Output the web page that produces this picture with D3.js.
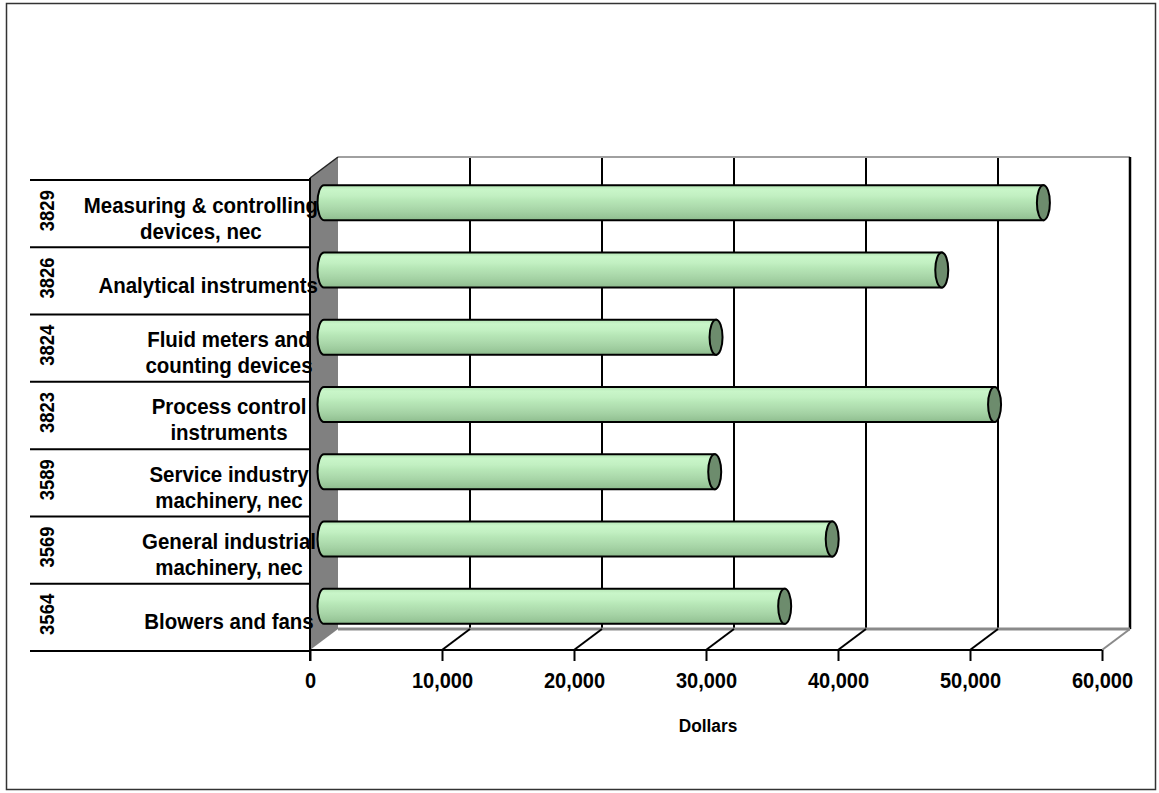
<!DOCTYPE html>
<html>
<head>
<meta charset="utf-8">
<script src="https://cdn.jsdelivr.net/npm/d3@7"></script>
<style>
  body { margin: 0; background: #fff; }
  text { font-family: "Liberation Sans", Arial, sans-serif; font-weight: bold; fill: #000; }
</style>
</head>
<body>
<div id="wrapper"></div>
<script>
// data
const codes = ["3829", "3826", "3824", "3823", "3589", "3569", "3564"]
const names = [
  ["Measuring & controlling", "devices, nec"],
  ["Analytical instruments"],
  ["Fluid meters and", "counting devices"],
  ["Process control", "instruments"],
  ["Service industry", "machinery, nec"],
  ["General industrial", "machinery, nec"],
  ["Blowers and fans"],
]
const values = [54500, 46800, 29700, 50800, 29600, 38500, 34900]
const xTicks = [0, 10000, 20000, 30000, 40000, 50000, 60000]
const axisTitle = "Dollars"

function drawBarChart() {
  const width = 1159
  const height = 793

  // front plane of the 3d box, plus the depth offset of the back plane
  const plot = { left: 310, right: 1102, top: 180, bottom: 651 }
  const depth = { dx: 28, dy: -22 }
  // the original font is a condensed bold face, so squeeze text a little
  const squeeze = 0.91

  const svg = d3.select("#wrapper")
    .append("svg")
    .attr("width", width)
    .attr("height", height)

  const defs = svg.append("defs")
  const grad = defs.append("linearGradient")
    .attr("id", "barFill")
    .attr("x1", 0).attr("y1", 0).attr("x2", 0).attr("y2", 1)
  const stops = [
    [0, "#b4e4b4"], [0.12, "#c9f6c9"], [0.3, "#c2f0c2"], [0.45, "#b6e6b6"],
    [0.6, "#aedcae"], [0.75, "#a4d2a4"], [0.9, "#98c698"], [1, "#8cba8c"],
  ]
  stops.forEach(([o, c]) => grad.append("stop").attr("offset", o).attr("stop-color", c))

  // outer frame
  svg.append("rect")
    .attr("x", 6.5).attr("y", 3.5)
    .attr("width", 1149).attr("height", 786)
    .attr("fill", "none")
    .attr("stroke", "#333")
    .attr("stroke-width", 1.5)

  // scales
  const xScale = d3.scaleLinear()
    .domain([0, 60000])
    .range([plot.left, plot.right])

  const yScale = d3.scaleBand()
    .domain(codes)
    .range([plot.top, plot.bottom])
    .paddingInner(0)

  const backTop = plot.top + depth.dy - 1
  const backBottom = plot.bottom + depth.dy

  // back wall gridlines
  svg.append("g")
    .selectAll("line")
    .data(xTicks.slice(1, -1))
    .join("line")
    .attr("x1", (d) => xScale(d) + depth.dx)
    .attr("x2", (d) => xScale(d) + depth.dx)
    .attr("y1", backTop)
    .attr("y2", backBottom)
    .attr("stroke", "#000")
    .attr("stroke-width", 2)

  // back wall top edge and right edge
  svg.append("line")
    .attr("x1", plot.left + depth.dx).attr("x2", plot.right + depth.dx)
    .attr("y1", backTop).attr("y2", backTop)
    .attr("stroke", "#a0a0a0").attr("stroke-width", 2)
  svg.append("line")
    .attr("x1", plot.right + depth.dx).attr("x2", plot.right + depth.dx)
    .attr("y1", backTop).attr("y2", backBottom)
    .attr("stroke", "#000").attr("stroke-width", 2.5)

  // floor: back edge, diagonals, right edge
  svg.append("line")
    .attr("x1", plot.left + depth.dx).attr("x2", plot.right + depth.dx)
    .attr("y1", backBottom).attr("y2", backBottom)
    .attr("stroke", "#8a8a8a").attr("stroke-width", 3)

  svg.append("g")
    .selectAll("line")
    .data(xTicks.slice(1))
    .join("line")
    .attr("x1", (d) => xScale(d))
    .attr("y1", plot.bottom - 1)
    .attr("x2", (d) => xScale(d) + depth.dx)
    .attr("y2", backBottom)
    .attr("stroke", (d) => (d === 60000 ? "#8a8a8a" : "#000"))
    .attr("stroke-width", 2)

  // left (category) wall
  svg.append("polygon")
    .attr("points", [
      [plot.left, plot.top - 2],
      [plot.left + depth.dx, backTop],
      [plot.left + depth.dx, backBottom],
      [plot.left, plot.bottom - 1],
    ].join(" "))
    .attr("fill", "#808080")
  svg.append("line")
    .attr("x1", plot.left).attr("y1", plot.top - 2)
    .attr("x2", plot.left + depth.dx).attr("y2", backTop)
    .attr("stroke", "#222").attr("stroke-width", 1.5)

  // bars as cylinders sitting halfway into the depth
  const mid = { dx: depth.dx / 2, dy: depth.dy / 2 }
  const r = yScale.bandwidth() * 0.26
  const capRx = 6.5

  const bars = svg.append("g")
    .selectAll("g")
    .data(codes.map((c, i) => ({ code: c, value: values[i] })))
    .join("g")

  bars.append("path")
    .attr("d", (d) => {
      const x0 = xScale(0) + mid.dx
      const x1 = xScale(d.value) + mid.dx
      const cy = yScale(d.code) + yScale.bandwidth() / 2 + mid.dy
      return `M${x0},${cy - r} L${x1},${cy - r} L${x1},${cy + r} L${x0},${cy + r}` +
        ` A${capRx},${r} 0 0 1 ${x0},${cy - r} Z`
    })
    .attr("fill", "url(#barFill)")
    .attr("stroke", "#000")
    .attr("stroke-width", 2)

  bars.append("ellipse")
    .attr("cx", (d) => xScale(d.value) + mid.dx)
    .attr("cy", (d) => yScale(d.code) + yScale.bandwidth() / 2 + mid.dy)
    .attr("rx", capRx)
    .attr("ry", r)
    .attr("fill", "#6d8c6d")
    .attr("stroke", "#000")
    .attr("stroke-width", 2)

  // category separators and front edges
  svg.append("g")
    .selectAll("line")
    .data(codes.map((c) => yScale(c)).concat([plot.bottom]))
    .join("line")
    .attr("x1", 30).attr("x2", plot.left)
    .attr("y1", (d) => d).attr("y2", (d) => d)
    .attr("stroke", "#000").attr("stroke-width", 2)

  svg.append("line")
    .attr("x1", plot.left).attr("x2", plot.right)
    .attr("y1", plot.bottom - 1).attr("y2", plot.bottom - 1)
    .attr("stroke", "#000").attr("stroke-width", 2)

  svg.append("line")
    .attr("x1", plot.left).attr("x2", plot.left)
    .attr("y1", plot.top - 2).attr("y2", plot.bottom + 10)
    .attr("stroke", "#000").attr("stroke-width", 2)

  // x axis
  const xAxisGenerator = d3.axisBottom(xScale)
    .tickValues(xTicks)
    .tickFormat(d3.format(","))
    .tickSize(11)
    .tickPadding(11)

  const xAxis = svg.append("g")
    .attr("transform", `translate(0, ${plot.bottom - 1})`)
    .call(xAxisGenerator)
  xAxis.select(".domain").remove()
  xAxis.selectAll(".tick line").attr("stroke", "#000").attr("stroke-width", 2)
  xAxis.selectAll(".tick text")
    .attr("font-family", null)
    .attr("font-size", null)
    .attr("fill", "#000")
    .attr("transform", `scale(${squeeze}, 1)`)
    .style("font-size", "22px")

  svg.append("text")
    .attr("transform", `translate(${(plot.left + plot.right) / 2 + 2}, 732) scale(${squeeze}, 1)`)
    .attr("text-anchor", "middle")
    .style("font-size", "19px")
    .text(axisTitle)

  // category labels: code rotated, name centred but kept left of the wall
  const labels = svg.append("g")
    .selectAll("g")
    .data(codes.map((c, i) => ({ code: c, lines: names[i] })))
    .join("g")

  labels.append("text")
    .attr("transform", (d) =>
      `translate(54, ${yScale(d.code) + yScale.bandwidth() / 2 - 3}) rotate(-90) scale(0.88, 1)`)
    .attr("text-anchor", "middle")
    .style("font-size", "21px")
    .text((d) => d.code)

  const lineHeight = 26
  labels.each(function (d) {
    const g = d3.select(this)
    const cy = yScale(d.code) + yScale.bandwidth() / 2 + 4
    const holder = g.append("g")
    const t = holder.append("text")
      .attr("text-anchor", "middle")
      .style("font-size", "22.5px")
    d.lines.forEach((line, i) => {
      t.append("tspan")
        .attr("x", 0)
        .attr("y", cy + (i - (d.lines.length - 1) / 2) * lineHeight + 8)
        .text(line)
    })
    const w = d3.max(t.selectAll("tspan").nodes(), (n) => n.getComputedTextLength()) * squeeze
    const cx = Math.min(229, 318 - w / 2)
    holder.attr("transform", `translate(${cx}, 0) scale(${squeeze}, 1)`)
  })
}

drawBarChart()
</script>
</body>
</html>
